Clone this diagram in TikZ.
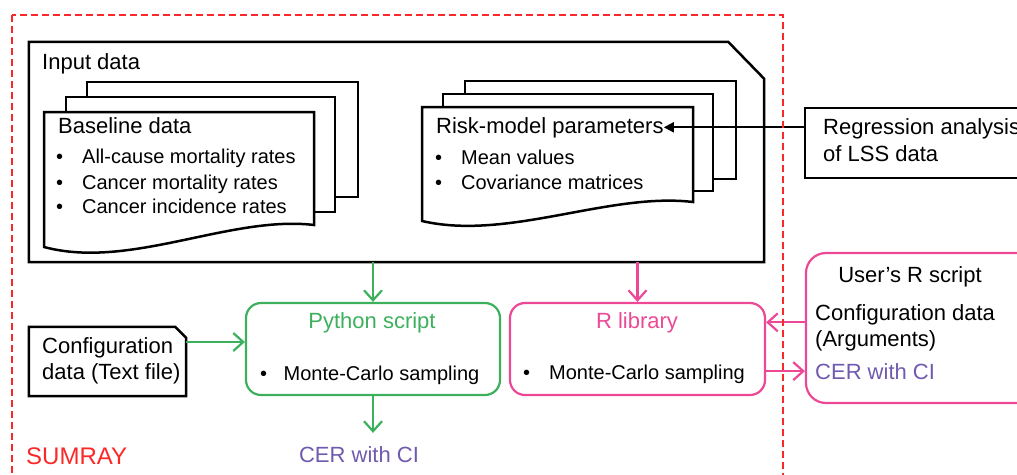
\documentclass[tikz,border=0pt]{standalone}
\usepackage{fontspec}
\setmainfont{Liberation Sans}
\usetikzlibrary{arrows.meta}

\definecolor{pygreen}{RGB}{60,176,92}
\definecolor{rpink}{RGB}{236,72,150}
\definecolor{cerpurple}{RGB}{112,90,176}
\definecolor{sumred}{RGB}{250,40,40}

% bullet with a fixed gap before the item text
\newcommand\bul[1][26pt]{\makebox[#1][l]{\textbullet}}

\begin{document}
\begin{tikzpicture}[x=1pt,y=1pt,
		lbl/.style={anchor=base west, font=\fontsize{22}{26}\selectfont},
		item/.style={anchor=base west, font=\fontsize{20}{24}\selectfont},
		blk/.style={draw=black, line width=2.5},
		page/.style={blk, fill=white},
		pybox/.style={draw=pygreen, line width=2.2, rounded corners=15, minimum width=254, minimum height=92},
		rbox/.style={draw=rpink, line width=2.2, rounded corners=15, minimum width=255, minimum height=92},
		pyarrow/.style={pygreen, line width=2.2, -{Straight Barb[length=10pt,width=18pt]}},
		rarrow/.style={rpink, line width=2.2, -{Straight Barb[length=10pt,width=18pt]}},
		blkarrow/.style={black, line width=2, -{Triangle[length=10pt,width=10pt]}},
		sumframe/.style={draw=sumred, line width=2, dash pattern=on 7pt off 4pt}]
		\tikzstyle{every node}+=[inner sep=0pt]
		\useasboundingbox (0,0) rectangle (1017,-474);

		% input data frame with the cut corner
		\node[minimum width=735, minimum height=220] (input) at (396.5,-152) {};
		\draw[blk] (input.south west) |- ([xshift=-36]input.north east) -- ([yshift=-37]input.north east) -- (input.south east) -- cycle;
		\node[lbl] (intitle) at (42,-69) {Input data};

		% baseline data stack
		\draw[page] (87,-82) rectangle (358,-197);
		\draw[page] (66,-97) rectangle (335,-212);
		\draw[page] (44,-112) -| (314,-225) .. controls +(-84,10) and +(86,-23) .. (44,-247) -- cycle;
		\node[lbl] (basetitle) at (58,-133) {Baseline data};
		\node[item] (base1) at (56,-163) {\bul All-cause mortality rates};
		\node[item] (base2) at (56,-189) {\bul Cancer mortality rates};
		\node[item] (base3) at (56,-213) {\bul Cancer incidence rates};

		% risk-model parameter stack
		\draw[page] (465,-81) rectangle (736,-179);
		\draw[page] (443,-94) rectangle (713,-191);
		\draw[page] (422,-107) -| (693,-202) .. controls +(-84,10) and +(86,-20) .. (422,-221) -- cycle;
		\node[lbl] (risktitle) at (436,-133) {Risk-model parameters};
		\node[item] (risk1) at (435,-164) {\bul Mean values};
		\node[item] (risk2) at (435,-189) {\bul Covariance matrices};

		% regression input
		\node[blk, minimum width=255, minimum height=70] (regr) at (932.5,-143) {};
		\node[lbl] (regr1) at (823,-134) {Regression analysis};
		\node[lbl] (regr2) at (823,-161) {of LSS data};
		\draw[blkarrow] (regr.west |- risktitle.east) -- (risktitle.east);

		% python script
		\node[pybox] (python) at (373,-349) {};
		\node[lbl, pygreen, anchor=base] (pytitle) at (372,-328) {Python script};
		\node[item] (pymc) at (260,-380) {\bul[23.5pt]Monte-Carlo sampling};
		\node[lbl, cerpurple, anchor=base] (pycer) at (359,-462) {CER with CI};
		\draw[pyarrow] (input.south -| python.north) -- (python.north);
		\draw[pyarrow, shorten >=13pt] (python.south) -- (python.south |- pycer.north);

		% configuration text file
		\node[minimum width=157, minimum height=69] (cfg) at (107.5,-361.5) {};
		\draw[blk] (cfg.south west) |- ([xshift=-11]cfg.north east) -- ([yshift=-11]cfg.north east) -- (cfg.south east) -- cycle;
		\node[lbl] (cfg1) at (42,-353) {Configuration};
		\node[lbl] (cfg2) at (42,-379) {data (Text file)};
		\draw[pyarrow] ([yshift=19.5]cfg.east) -- ([yshift=19.5]cfg.east -| python.west);

		% R library
		\node[rbox] (rlib) at (637.5,-349) {};
		\node[lbl, rpink, anchor=base] (rtitle) at (637,-328) {R library};
		\node[item] (rmc) at (523,-379) {\bul Monte-Carlo sampling};
		\draw[rarrow] (input.south -| rlib.north) -- (rlib.north);

		% user's R script
		\node[rbox, rounded corners=20, minimum width=254, minimum height=150] (user) at (933,-328) {};
		\node[lbl, anchor=base] (utitle) at (910,-282) {User's R script};
		\node[lbl] (ucfg1) at (815,-320) {Configuration data};
		\node[lbl] (ucfg2) at (815,-346) {(Arguments)};
		\node[lbl, cerpurple] (ucer) at (815,-379) {CER with CI};
		\draw[rarrow] (user.west |- rtitle) -- (rlib.east |- rtitle);
		\draw[rarrow] (rlib.east |- ucer) -- (user.west |- ucer);

		% SUMRAY boundary
		\draw[sumframe] (12,-15) rectangle (783,-500);
		\node[lbl, sumred, font=\fontsize{24}{28}\selectfont] (sumray) at (26,-464) {SUMRAY};
	\end{tikzpicture}
\end{document}
